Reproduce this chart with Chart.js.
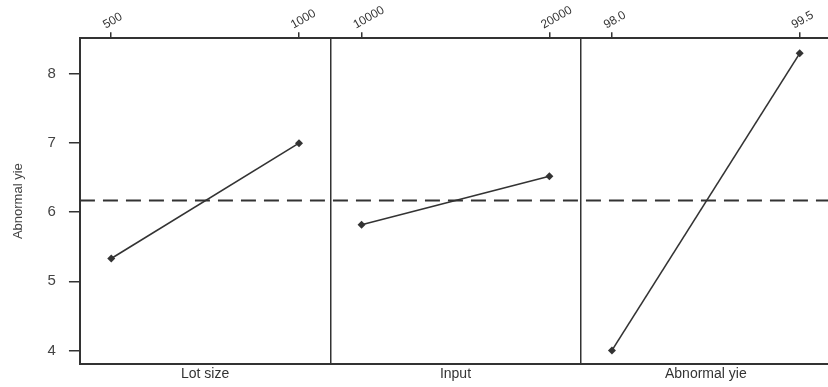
<!DOCTYPE html>
<html>
<head>
<meta charset="utf-8">
<script src="https://cdn.jsdelivr.net/npm/chart.js@4"></script>
<style>
  html, body { margin: 0; padding: 0; background: #fff; overflow: hidden; }
  #wrap { width: 835px; height: 387px; }
</style>
</head>
<body>
<div id="wrap"><canvas id="mainEffects"></canvas></div>
<script>
// factors and their two levels
var factors = ['Lot size', 'Input', 'Abnormal yie'];
var levelLabels = [['500', '1000'], ['10000', '20000'], ['98.0', '99.5']];
// mean response at each level
var lotSizeMeans = [5.33, 7.0];
var inputMeans = [5.82, 6.52];
var abnormalMeans = [4.0, 8.3];
var grandMean = 6.17;
var yTicks = [4, 5, 6, 7, 8];

var seriesMeans = [lotSizeMeans, inputMeans, abnormalMeans];
var ink = '#333333';

// each panel takes one unit of the x axis, levels sit at 1/8 and 7/8 of it
function levelPos(panel, level) {
    return panel + (level === 0 ? 0.125 : 0.875);
}

var datasets = seriesMeans.map(function(means, p) {
    return {
        data: means.map(function(v, i) { return { x: levelPos(p, i), y: v }; }),
        borderColor: ink,
        backgroundColor: ink,
        borderWidth: 1.6,
        pointStyle: 'rectRot',
        pointRadius: 4,
        pointBorderWidth: 0,
        tension: 0
    };
});
datasets.push({
    data: [{ x: 0, y: grandMean }, { x: 3, y: grandMean }],
    borderColor: ink,
    borderWidth: 2,
    borderDash: [15, 8],
    pointRadius: 0
});

var topTicks = [];
var topLabels = {};
levelLabels.forEach(function(pair, p) {
    pair.forEach(function(lbl, i) {
        var pos = levelPos(p, i);
        topTicks.push({ value: pos });
        topLabels[pos] = lbl;
    });
});

document.addEventListener('DOMContentLoaded', function() {
    var ctx = document.getElementById('mainEffects').getContext('2d');
    Chart.defaults.font.family = '"Liberation Sans", Arial, sans-serif';
    Chart.defaults.color = ink;

    new Chart(ctx, {
        type: 'line',
        data: { datasets: datasets },
        options: {
            responsive: true,
            maintainAspectRatio: false,
            animation: false,
            layout: { padding: { left: 7, right: 0, top: 3, bottom: 2 } },
            plugins: { legend: { display: false }, tooltip: { enabled: false } },
            scales: {
                x: {
                    type: 'linear',
                    position: 'top',
                    min: 0, max: 3,
                    afterBuildTicks: function(axis) { axis.ticks = topTicks.slice(); },
                    ticks: {
                        minRotation: 30, maxRotation: 30,
                        font: { size: 12 },
                        padding: 0,
                        callback: function(v) { return topLabels[v]; }
                    },
                    grid: { drawOnChartArea: false, tickLength: 6, color: ink, lineWidth: 1.5 },
                    border: { color: ink, width: 2 }
                },
                xb: {
                    type: 'linear',
                    position: 'bottom',
                    min: 0, max: 3,
                    afterBuildTicks: function(axis) {
                        axis.ticks = [0, 0.5, 1, 1.5, 2, 2.5, 3].map(function(v) { return { value: v }; });
                    },
                    ticks: {
                        maxRotation: 0,
                        autoSkip: false,
                        font: { size: 14 },
                        padding: 2,
                        callback: function(v) {
                            return (v % 1 === 0.5) ? factors[Math.floor(v)] : '';
                        }
                    },
                    grid: {
                        drawTicks: false,
                        lineWidth: 1.5,
                        color: function(c) {
                            var v = c.tick ? c.tick.value : 0;
                            return (v === 1 || v === 2) ? ink : 'rgba(0,0,0,0)';
                        }
                    },
                    border: { color: ink, width: 2 }
                },
                y: {
                    min: 3.8, max: 8.52,
                    afterBuildTicks: function(axis) {
                        axis.ticks = yTicks.map(function(v) { return { value: v }; });
                    },
                    ticks: { font: { size: 15 }, padding: 13, color: '#444' },
                    grid: { drawOnChartArea: false, tickLength: 11, color: ink, lineWidth: 1.5 },
                    border: { color: ink, width: 2 },
                    title: { display: true, text: 'Abnormal yie', font: { size: 13 }, color: '#444', padding: { bottom: 8 } }
                }
            }
        }
    });
});
</script>
</body>
</html>
